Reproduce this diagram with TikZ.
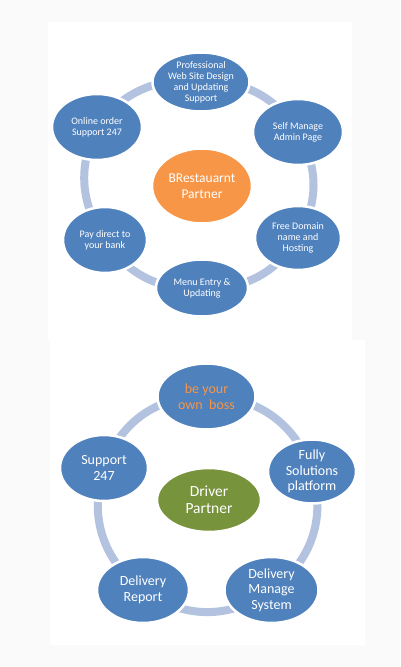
\documentclass[tikz,border=0pt]{standalone}
\usepackage{fontspec}
\setmainfont{Carlito}
\usetikzlibrary{shapes.geometric}
\definecolor{nodeblue}{RGB}{79,129,189}
\definecolor{ringblue}{RGB}{178,194,223}
\definecolor{huborange}{RGB}{247,150,70}
\definecolor{hubgreen}{RGB}{119,147,60}
\definecolor{pagebg}{RGB}{250,250,250}
\pgfdeclarelayer{bg}
\pgfdeclarelayer{rings}
\pgfsetlayers{bg,rings,main}
\begin{document}
\begin{tikzpicture}[x=1pt,y=1pt,
  bubble/.style={ellipse, fill=nodeblue, draw=white, line width=2.5pt, text=white, align=center, inner sep=0pt},
  smalltext/.style={font=\fontsize{10}{11}\selectfont},
  bigtext/.style={font=\fontsize{14}{15.6}\selectfont},
  hubtext/.style={font=\fontsize{15.5}{17}\selectfont},
  ringarc/.style={draw=ringblue, line width=8pt},
  panel/.style={fill=white, draw=none}]
\begin{pgfonlayer}{bg}
  \fill[pagebg] (0,0) rectangle (400,667);
  \fill[white] (48,327) rectangle (352,645);
  \fill[white] (50,22) rectangle (365,327);
\end{pgfonlayer}
% ---------- top panel ----------
\node[bubble, smalltext, minimum width=97, minimum height=59] (web) at (201,585) {Professional\\Web Site Design\\and Updating\\Support};
\node[bubble, smalltext, minimum width=90, minimum height=66] (self) at (298,535) {Self Manage\\Admin Page};
\node[bubble, smalltext, minimum width=86, minimum height=64] (domain) at (298,429) {Free Domain\\name and\\Hosting};
\node[bubble, smalltext, minimum width=92, minimum height=57] (menu) at (202,379) {Menu Entry \&\\Updating};
\node[bubble, smalltext, minimum width=84, minimum height=66] (pay) at (105,427) {Pay direct to\\your bank};
\node[bubble, smalltext, minimum width=90, minimum height=66] (online) at (97,540) {Online order\\Support 247};
\node[bubble, bigtext, fill=huborange, font=\fontsize{13.5}{16}\selectfont, minimum width=100, minimum height=75] (rest) at (202,481) {BRestauarnt\\Partner};
\begin{pgfonlayer}{rings}
  \draw[ringarc] (web.center) to[bend left=30] (self.center);
  \draw[ringarc] (self.center) to[bend left=30] (domain.center);
  \draw[ringarc] (domain.center) to[bend left=30] (menu.center);
  \draw[ringarc] (menu.center) to[bend left=30] (pay.center);
  \draw[ringarc] (pay.center) to[bend left=30] (online.center);
  \draw[ringarc] (online.center) to[bend left=30] (web.center);
\end{pgfonlayer}
% ---------- bottom panel ----------
\node[bubble, bigtext, text=huborange, minimum width=98, minimum height=66] (boss) at (206.5,270.5) {be your\\own\ \ boss};
\node[bubble, bigtext, minimum width=88, minimum height=64] (fully) at (312,195.5) {Fully\\Solutions\\platform};
\node[bubble, bigtext, minimum width=94, minimum height=66] (manage) at (271.5,77) {Delivery\\Manage\\System};
\node[bubble, bigtext, minimum width=92, minimum height=66] (report) at (143,77) {Delivery\\Report};
\node[bubble, bigtext, minimum width=88, minimum height=66] (support) at (104,199) {Support\\247};
\node[bubble, hubtext, fill=hubgreen, minimum width=104, minimum height=64] (driver) at (209,167) {Driver\\Partner};
\begin{pgfonlayer}{rings}
  \draw[ringarc] (boss.center) to[bend left=36] (fully.center);
  \draw[ringarc] (fully.center) to[bend left=36] (manage.center);
  \draw[ringarc] (manage.center) to[bend left=36] (report.center);
  \draw[ringarc] (report.center) to[bend left=36] (support.center);
  \draw[ringarc] (support.center) to[bend left=36] (boss.center);
\end{pgfonlayer}
\useasboundingbox (0,0) rectangle (400,667);
\end{tikzpicture}
\end{document}
